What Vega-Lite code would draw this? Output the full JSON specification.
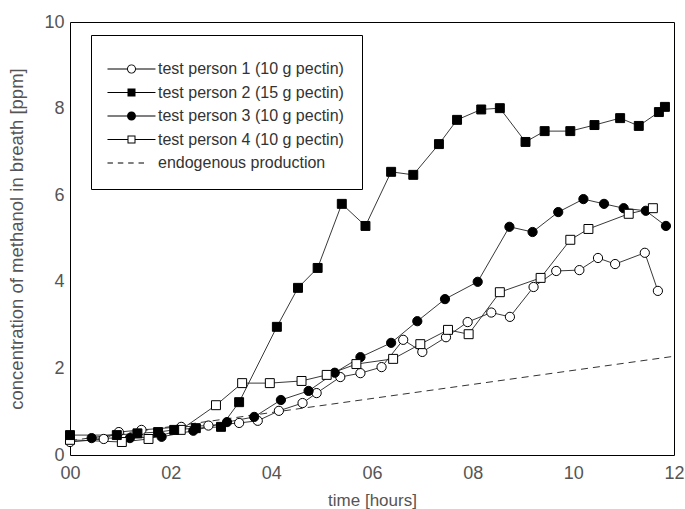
{
  "$schema": "https://vega.github.io/schema/vega-lite/v6.json",
  "width": 604,
  "height": 433,
  "autosize": "none",
  "padding": {"left": 70, "top": 22, "right": 11, "bottom": 54},
  "background": "white",
  "config": {
    "view": {"stroke": "black", "strokeWidth": 1},
    "font": "Liberation Sans",
    "axis": {
      "labelFont": "Liberation Sans",
      "titleFont": "Liberation Sans",
      "labelColor": "#555",
      "titleColor": "#555",
      "labelFontSize": 18,
      "titleFontWeight": "normal",
      "domain": false,
      "ticks": false,
      "tickSize": 0,
      "grid": false,
      "labelFlush": false,
      "labelOverlap": false
    }
  },
  "data": {
    "values": [
      {"s": "test person 1 (10 g pectin)", "t": 0, "c": 0.3},
      {"s": "test person 1 (10 g pectin)", "t": 0.67, "c": 0.37},
      {"s": "test person 1 (10 g pectin)", "t": 0.97, "c": 0.53},
      {"s": "test person 1 (10 g pectin)", "t": 1.42, "c": 0.58},
      {"s": "test person 1 (10 g pectin)", "t": 2.21, "c": 0.65},
      {"s": "test person 1 (10 g pectin)", "t": 2.75, "c": 0.68},
      {"s": "test person 1 (10 g pectin)", "t": 3.36, "c": 0.74},
      {"s": "test person 1 (10 g pectin)", "t": 3.73, "c": 0.79},
      {"s": "test person 1 (10 g pectin)", "t": 4.15, "c": 1.02},
      {"s": "test person 1 (10 g pectin)", "t": 4.62, "c": 1.2},
      {"s": "test person 1 (10 g pectin)", "t": 4.9, "c": 1.43},
      {"s": "test person 1 (10 g pectin)", "t": 5.37, "c": 1.8},
      {"s": "test person 1 (10 g pectin)", "t": 5.77, "c": 1.89},
      {"s": "test person 1 (10 g pectin)", "t": 6.19, "c": 2.03},
      {"s": "test person 1 (10 g pectin)", "t": 6.62, "c": 2.66},
      {"s": "test person 1 (10 g pectin)", "t": 7.0, "c": 2.38},
      {"s": "test person 1 (10 g pectin)", "t": 7.47, "c": 2.72},
      {"s": "test person 1 (10 g pectin)", "t": 7.9, "c": 3.07},
      {"s": "test person 1 (10 g pectin)", "t": 8.37, "c": 3.29},
      {"s": "test person 1 (10 g pectin)", "t": 8.74, "c": 3.19},
      {"s": "test person 1 (10 g pectin)", "t": 9.21, "c": 3.88},
      {"s": "test person 1 (10 g pectin)", "t": 9.66, "c": 4.25},
      {"s": "test person 1 (10 g pectin)", "t": 10.12, "c": 4.27},
      {"s": "test person 1 (10 g pectin)", "t": 10.49, "c": 4.55},
      {"s": "test person 1 (10 g pectin)", "t": 10.83, "c": 4.41},
      {"s": "test person 1 (10 g pectin)", "t": 11.42, "c": 4.67},
      {"s": "test person 1 (10 g pectin)", "t": 11.68, "c": 3.79},
      {"s": "test person 2 (15 g pectin)", "t": 0, "c": 0.46},
      {"s": "test person 2 (15 g pectin)", "t": 0.93, "c": 0.46},
      {"s": "test person 2 (15 g pectin)", "t": 1.34, "c": 0.5},
      {"s": "test person 2 (15 g pectin)", "t": 1.75, "c": 0.53},
      {"s": "test person 2 (15 g pectin)", "t": 2.07, "c": 0.58},
      {"s": "test person 2 (15 g pectin)", "t": 2.5, "c": 0.62},
      {"s": "test person 2 (15 g pectin)", "t": 3.0, "c": 0.65},
      {"s": "test person 2 (15 g pectin)", "t": 3.36, "c": 1.22},
      {"s": "test person 2 (15 g pectin)", "t": 4.11, "c": 2.96},
      {"s": "test person 2 (15 g pectin)", "t": 4.53, "c": 3.86},
      {"s": "test person 2 (15 g pectin)", "t": 4.92, "c": 4.32},
      {"s": "test person 2 (15 g pectin)", "t": 5.4, "c": 5.8},
      {"s": "test person 2 (15 g pectin)", "t": 5.87, "c": 5.29},
      {"s": "test person 2 (15 g pectin)", "t": 6.38, "c": 6.54},
      {"s": "test person 2 (15 g pectin)", "t": 6.82, "c": 6.47},
      {"s": "test person 2 (15 g pectin)", "t": 7.33, "c": 7.18},
      {"s": "test person 2 (15 g pectin)", "t": 7.69, "c": 7.74},
      {"s": "test person 2 (15 g pectin)", "t": 8.17, "c": 7.98},
      {"s": "test person 2 (15 g pectin)", "t": 8.54, "c": 8.01},
      {"s": "test person 2 (15 g pectin)", "t": 9.05, "c": 7.23},
      {"s": "test person 2 (15 g pectin)", "t": 9.43, "c": 7.48},
      {"s": "test person 2 (15 g pectin)", "t": 9.94, "c": 7.48},
      {"s": "test person 2 (15 g pectin)", "t": 10.42, "c": 7.62},
      {"s": "test person 2 (15 g pectin)", "t": 10.93, "c": 7.78},
      {"s": "test person 2 (15 g pectin)", "t": 11.3, "c": 7.6},
      {"s": "test person 2 (15 g pectin)", "t": 11.7, "c": 7.92},
      {"s": "test person 2 (15 g pectin)", "t": 11.82, "c": 8.04},
      {"s": "test person 3 (10 g pectin)", "t": 0.43, "c": 0.39},
      {"s": "test person 3 (10 g pectin)", "t": 1.19, "c": 0.39},
      {"s": "test person 3 (10 g pectin)", "t": 1.82, "c": 0.42},
      {"s": "test person 3 (10 g pectin)", "t": 2.45, "c": 0.56},
      {"s": "test person 3 (10 g pectin)", "t": 3.12, "c": 0.76},
      {"s": "test person 3 (10 g pectin)", "t": 3.66, "c": 0.88},
      {"s": "test person 3 (10 g pectin)", "t": 4.19, "c": 1.27},
      {"s": "test person 3 (10 g pectin)", "t": 4.74, "c": 1.48},
      {"s": "test person 3 (10 g pectin)", "t": 5.26, "c": 1.9},
      {"s": "test person 3 (10 g pectin)", "t": 5.77, "c": 2.26},
      {"s": "test person 3 (10 g pectin)", "t": 6.38, "c": 2.59},
      {"s": "test person 3 (10 g pectin)", "t": 6.9, "c": 3.09},
      {"s": "test person 3 (10 g pectin)", "t": 7.45, "c": 3.6},
      {"s": "test person 3 (10 g pectin)", "t": 8.1, "c": 4.0},
      {"s": "test person 3 (10 g pectin)", "t": 8.73, "c": 5.27},
      {"s": "test person 3 (10 g pectin)", "t": 9.19, "c": 5.15},
      {"s": "test person 3 (10 g pectin)", "t": 9.7, "c": 5.61},
      {"s": "test person 3 (10 g pectin)", "t": 10.2, "c": 5.91},
      {"s": "test person 3 (10 g pectin)", "t": 10.61, "c": 5.8},
      {"s": "test person 3 (10 g pectin)", "t": 11.0, "c": 5.7},
      {"s": "test person 3 (10 g pectin)", "t": 11.44, "c": 5.64},
      {"s": "test person 3 (10 g pectin)", "t": 11.84, "c": 5.29},
      {"s": "test person 4 (10 g pectin)", "t": 0, "c": 0.35},
      {"s": "test person 4 (10 g pectin)", "t": 1.03, "c": 0.3},
      {"s": "test person 4 (10 g pectin)", "t": 1.56, "c": 0.37},
      {"s": "test person 4 (10 g pectin)", "t": 2.2, "c": 0.58},
      {"s": "test person 4 (10 g pectin)", "t": 2.9, "c": 1.15},
      {"s": "test person 4 (10 g pectin)", "t": 3.42, "c": 1.66},
      {"s": "test person 4 (10 g pectin)", "t": 3.97, "c": 1.66},
      {"s": "test person 4 (10 g pectin)", "t": 4.6, "c": 1.71},
      {"s": "test person 4 (10 g pectin)", "t": 5.1, "c": 1.85},
      {"s": "test person 4 (10 g pectin)", "t": 5.69, "c": 2.1},
      {"s": "test person 4 (10 g pectin)", "t": 6.42, "c": 2.22},
      {"s": "test person 4 (10 g pectin)", "t": 6.96, "c": 2.56},
      {"s": "test person 4 (10 g pectin)", "t": 7.51, "c": 2.89},
      {"s": "test person 4 (10 g pectin)", "t": 7.92, "c": 2.79},
      {"s": "test person 4 (10 g pectin)", "t": 8.54, "c": 3.76},
      {"s": "test person 4 (10 g pectin)", "t": 9.35, "c": 4.09},
      {"s": "test person 4 (10 g pectin)", "t": 9.94, "c": 4.97},
      {"s": "test person 4 (10 g pectin)", "t": 10.3, "c": 5.22},
      {"s": "test person 4 (10 g pectin)", "t": 11.1, "c": 5.57},
      {"s": "test person 4 (10 g pectin)", "t": 11.58, "c": 5.7},
      {"s": "endogenous production", "t": 0, "c": 0.33},
      {"s": "endogenous production", "t": 12, "c": 2.28}
    ]
  },
  "layer": [
    {
      "transform": [{"filter": "datum.s != 'endogenous production'"}],
      "mark": {"type": "line", "stroke": "#222", "strokeWidth": 0.9},
      "encoding": {
        "x": {
          "field": "t", "type": "quantitative",
          "scale": {"domain": [0, 12], "nice": false},
          "axis": {
            "orient": "bottom",
            "values": [0, 2, 4, 6, 8, 10, 12],
            "labelExpr": "datum.value < 10 ? '0' + datum.value : '' + datum.value",
            "labelPadding": 9,
            "title": "time [hours]",
            "titleFontSize": 17,
            "titlePadding": 10
          }
        },
        "y": {
          "field": "c", "type": "quantitative",
          "scale": {"domain": [0, 10], "nice": false},
          "axis": {
            "orient": "left",
            "values": [0, 2, 4, 6, 8, 10],
            "labelPadding": 6,
            "title": "concentration of methanol in breath [ppm]",
            "titleFontSize": 18.5,
            "titlePadding": 17
          }
        },
        "detail": {"field": "s"}
      }
    },
    {
      "transform": [{"filter": "datum.s == 'endogenous production'"}],
      "mark": {"type": "line", "stroke": "#333", "strokeWidth": 1, "strokeDash": [7, 5]},
      "encoding": {
        "x": {"field": "t", "type": "quantitative", "axis": null},
        "y": {"field": "c", "type": "quantitative", "axis": null}
      }
    },
    {
      "transform": [{"filter": "datum.s == 'test person 1 (10 g pectin)'"}],
      "mark": {"type": "point", "shape": "circle", "filled": true, "fill": "white", "stroke": "black", "strokeWidth": 1, "size": 85, "opacity": 1},
      "encoding": {
        "x": {"field": "t", "type": "quantitative", "axis": null},
        "y": {"field": "c", "type": "quantitative", "axis": null}
      }
    },
    {
      "transform": [{"filter": "datum.s == 'test person 3 (10 g pectin)'"}],
      "mark": {"type": "point", "shape": "circle", "filled": true, "fill": "black", "stroke": "black", "strokeWidth": 1, "size": 85, "opacity": 1},
      "encoding": {
        "x": {"field": "t", "type": "quantitative", "axis": null},
        "y": {"field": "c", "type": "quantitative", "axis": null}
      }
    },
    {
      "transform": [{"filter": "datum.s == 'test person 4 (10 g pectin)'"}],
      "mark": {"type": "point", "shape": "square", "filled": true, "fill": "white", "stroke": "black", "strokeWidth": 1, "size": 80, "opacity": 1},
      "encoding": {
        "x": {"field": "t", "type": "quantitative", "axis": null},
        "y": {"field": "c", "type": "quantitative", "axis": null}
      }
    },
    {
      "transform": [{"filter": "datum.s == 'test person 2 (15 g pectin)'"}],
      "mark": {"type": "point", "shape": "square", "filled": true, "fill": "black", "stroke": "black", "strokeWidth": 1, "size": 80, "opacity": 1},
      "encoding": {
        "x": {"field": "t", "type": "quantitative", "axis": null},
        "y": {"field": "c", "type": "quantitative", "axis": null}
      }
    },
    {
      "transform": [{"filter": "false"}],
      "mark": {"type": "point", "filled": true, "fill": "black", "strokeWidth": 0, "opacity": 1},
      "encoding": {
        "x": {"field": "t", "type": "quantitative", "axis": null},
        "y": {"field": "c", "type": "quantitative", "axis": null},
        "shape": {
          "field": "s", "type": "nominal",
          "scale": {
            "domain": ["test person 1 (10 g pectin)", "test person 2 (15 g pectin)", "test person 3 (10 g pectin)", "test person 4 (10 g pectin)", "endogenous production"],
            "range": [
              "M-1.27,-0.067H1.34V0.067H-1.27Z M2.53,-0.067H5.13V0.067H2.53Z M1.333,0A0.6,0.6 0 1,1 2.533,0A0.6,0.6 0 1,1 1.333,0Z M1.467,0A0.467,0.467 0 1,0 2.4,0A0.467,0.467 0 1,0 1.467,0Z",
              "M-1.27,-0.067H1.4V0.067H-1.27Z M2.467,-0.067H5.13V0.067H2.467Z M1.4,-0.533H2.467V0.533H1.4Z",
              "M-1.27,-0.067H1.34V0.067H-1.27Z M2.53,-0.067H5.13V0.067H2.53Z M1.333,0A0.6,0.6 0 1,1 2.533,0A0.6,0.6 0 1,1 1.333,0Z",
              "M-1.27,-0.067H1.4V0.067H-1.27Z M2.467,-0.067H5.13V0.067H2.467Z M1.4,-0.533H2.467V0.533H1.4Z M1.533,-0.4V0.4H2.333V-0.4Z",
              "M-1.27,-0.067H-0.54V0.067H-1.27Z M0.11,-0.067H0.84V0.067H0.11Z M1.49,-0.067H2.22V0.067H1.49Z M2.87,-0.067H3.6V0.067H2.87Z"
            ]
          },
          "legend": {
            "title": " ",
            "titleFontSize": 8,
            "titlePadding": 0,
            "orient": "none",
            "direction": "vertical",
            "legendX": 21,
            "legendY": 13,
            "padding": 18,
            "strokeColor": "black",
            "fillColor": "white",
            "cornerRadius": 0,
            "symbolSize": 225,
            "symbolFillColor": "black",
            "symbolStrokeWidth": 0,
            "labelOffset": 33,
            "rowPadding": 7.5,
            "labelFontSize": 16,
            "labelFont": "Liberation Sans",
            "labelColor": "#333",
            "labelLimit": 400
          }
        }
      }
    }
  ],
  "resolve": {"axis": {"x": "independent", "y": "independent"}}
}
